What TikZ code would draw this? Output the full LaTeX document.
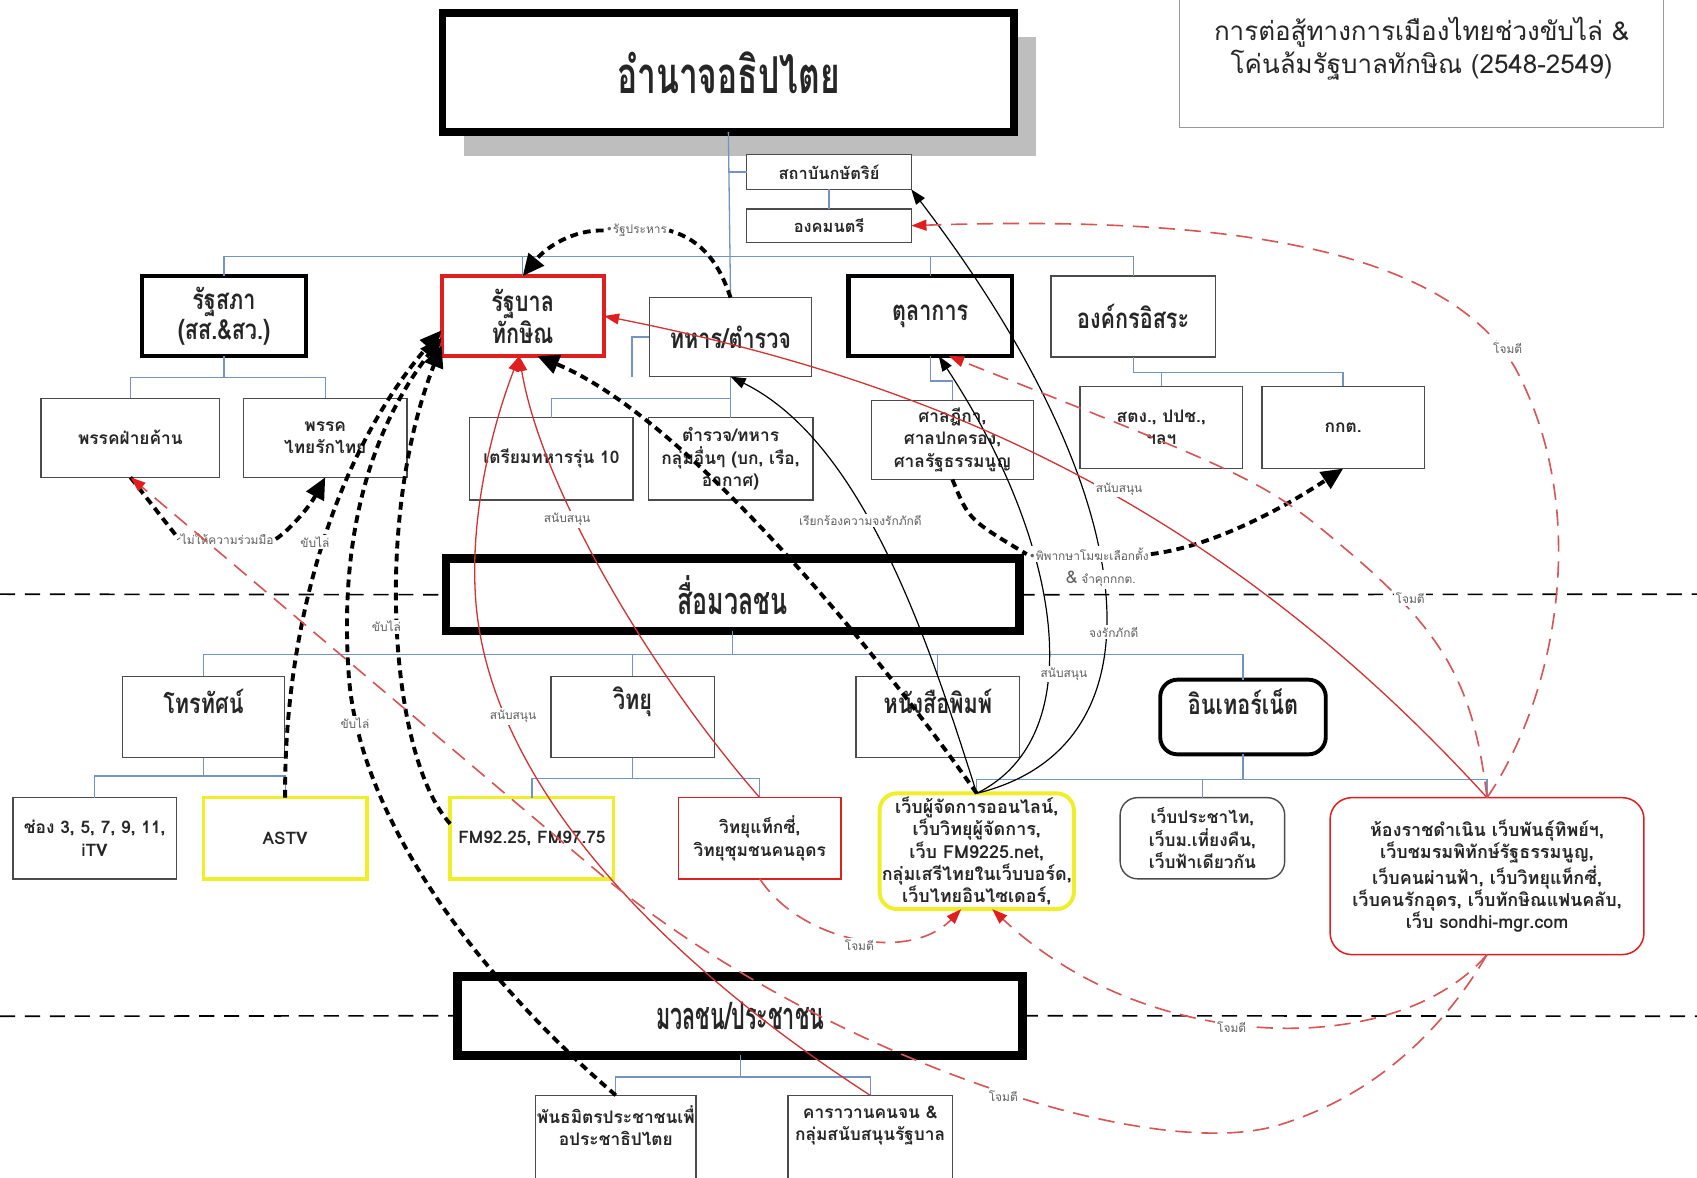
\documentclass[tikz,border=0pt]{standalone}
\usepackage{fontspec}
\setmainfont[Script=Thai]{Loma}
\newfontfamily\condf[Script=Thai,FakeStretch=0.78]{Loma}
\newfontfamily\condg[Script=Thai,FakeStretch=0.66]{Loma}
\newfontfamily\condh[Script=Thai,FakeStretch=0.57]{Loma}
\newfontfamily\dejavu{DejaVu Sans}
\usetikzlibrary{arrows.meta}
\definecolor{orgblue}{RGB}{115,148,190}
\definecolor{boxgray}{RGB}{75,75,75}
\definecolor{ylw}{RGB}{240,238,40}
\definecolor{rd}{RGB}{225,30,30}
\definecolor{rline}{RGB}{210,50,50}
\definecolor{rdsh}{RGB}{215,85,85}
\definecolor{lbl}{RGB}{95,95,95}
\definecolor{shadowgray}{RGB}{190,190,190}
\begin{document}
\begin{tikzpicture}[x=0.5pt,y=-0.5pt,
 box/.style={draw=boxgray,line width=0.65pt,fill=white,inner sep=1pt,outer sep=0pt,align=center,text=black!85,font=\bfseries\fontsize{8}{10.3}\selectfont},
 hd/.style={font=\condf\bfseries\fontsize{12.8}{12}\selectfont,text=black!85},
 thickbox/.style={box,line width=2pt,draw=black},
 hugebox/.style={box,line width=4pt,draw=black},
 ybox/.style={box,draw=ylw,line width=1.6pt},
 rbox/.style={box,draw=rd,line width=0.7pt},
 org/.style={draw=orgblue,line width=0.6pt},
 midline/.style={draw=black,line width=0.75pt,dash pattern=on 7pt off 4.5pt},
 bdash/.style={draw=black,line width=1.8pt,dash pattern=on 3.6pt off 2.4pt},
 barrow/.style={bdash,-{Triangle[length=10pt,width=9pt]}},
 kline/.style={draw=black,line width=0.55pt,-{Triangle[length=7pt,width=5pt]}},
 rsolid/.style={draw=rline,line width=0.6pt,-{Triangle[length=7pt,width=5pt,color=rd]}},
 rdashed/.style={draw=rdsh,line width=0.75pt,dash pattern=on 7.5pt off 4.5pt,-{Triangle[length=7pt,width=5pt,color=rd]}},
 lab/.style={font=\fontsize{5.5}{6.5}\selectfont,text=lbl,fill=white,inner sep=0.8pt},
]
\useasboundingbox (0,0) rectangle (1568,1088);
\fill[white] (0,0) rectangle (1568,1088);

% title box
\node[draw=black!40,line width=0.5pt,minimum width=223.5pt,minimum height=64pt,inner sep=0pt] (title) at (1313.5,54) {};
\node[align=center,font=\fontsize{12}{15}\selectfont,text=black!85] (titletext) at (1313.5,45) {การต่อสู้ทางการเมืองไทยช่วงขับไล่ \&\\โค่นล้มรัฐบาลทักษิณ (2548-2549)};

% top box with shadow
\fill[shadowgray] (429,34) rectangle (957,144);
\node[hugebox,line width=3.5pt,minimum width=264pt,minimum height=55pt,font=\condg\bfseries\fontsize{23.5}{24}\selectfont] (sov) at (673,67) {อำนาจอธิปไตย};

\node[box,minimum width=76pt,minimum height=16pt,font=\bfseries\fontsize{7.6}{9}\selectfont] (king) at (766,159) {สถาบันกษัตริย์};
\node[box,minimum width=76pt,minimum height=15.5pt,font=\bfseries\fontsize{7.6}{9}\selectfont] (privy) at (766,208.5) {องคมนตรี};

\node[thickbox,hd,minimum width=76pt,minimum height=37pt] (parl) at (207,292) {รัฐสภา\\(สส.\&สว.)};
\node[box,hd,draw=rd,line width=1.8pt,minimum width=75pt,minimum height=37pt] (govt) at (483,292) {รัฐบาล\\ทักษิณ};
\node[box,hd,minimum width=75pt,minimum height=36.5pt] (mil) at (675,311.5) {ทหาร/ตำรวจ};
\node[thickbox,hd,minimum width=75.5pt,minimum height=37pt] (court) at (859.5,292) {ตุลาการ};
\node[box,hd,minimum width=76pt,minimum height=37.5pt] (indep) at (1047,292.5) {องค์กรอิสระ};

\node[box,minimum width=82.5pt,minimum height=36.5pt] (opp) at (120.5,404.5) {พรรคฝ่ายค้าน};
\node[box,minimum width=75.5pt,minimum height=36.5pt] (trt) at (300.5,404.5) {พรรค\\ไทยรักไทย};
\node[box,minimum width=75.5pt,minimum height=38pt] (cadet) at (509.5,424) {เตรียมทหารรุ่น 10};
\node[box,minimum width=76pt,minimum height=38pt] (police) at (675,424) {ตำรวจ/ทหาร\\กลุ่มอื่นๆ (บก, เรือ,\\อากาศ)};
\node[box,minimum width=75pt,minimum height=36.5pt] (courts) at (880,406.5) {ศาลฎีกา,\\ศาลปกครอง,\\ศาลรัฐธรรมนูญ};
\node[box,minimum width=75pt,minimum height=38pt] (sto) at (1073,395) {สตง., ปปช.,\\ฯลฯ};
\node[box,minimum width=75pt,minimum height=38pt] (ect) at (1241,395) {กกต.};

\node[hugebox,minimum width=265pt,minimum height=33.5pt,font=\condg\bfseries\fontsize{17.5}{18}\selectfont] (media) at (677,549.5) {สื่อมวลชน};

\node[box,minimum width=75pt,minimum height=37.5pt,label={[hd,yshift=7pt]center:โทรทัศน์}] (tv) at (188,662.5) {};
\node[box,minimum width=75.5pt,minimum height=37.5pt,label={[hd,yshift=7pt]center:วิทยุ}] (radio) at (584.5,662.5) {};
\node[box,minimum width=75.5pt,minimum height=37.5pt,label={[hd,yshift=7pt]center:หนังสือพิมพ์}] (paper) at (866.5,662.5) {};
\node[box,draw=black,line width=1.8pt,rounded corners=8pt,minimum width=76.5pt,minimum height=34.5pt,label={[hd,yshift=7pt]center:อินเทอร์เน็ต}] (net) at (1148.5,662.5) {};

\node[box,minimum width=75.5pt,minimum height=37.5pt] (ch) at (87.5,774.5) {ช่อง 3, 5, 7, 9, 11,\\iTV};
\node[ybox,minimum width=75.5pt,minimum height=37.5pt] (astv) at (263.5,774.5) {ASTV};
\node[ybox,minimum width=75.5pt,minimum height=37.5pt] (fm) at (491.5,774.5) {FM92.25, FM97.75};
\node[rbox,minimum width=75pt,minimum height=37.5pt] (taxi) at (702,774.5) {วิทยุแท็กซี่,\\วิทยุชุมชนคนอุดร};
\node[ybox,line width=1.8pt,rounded corners=8pt,minimum width=87.5pt,minimum height=53.5pt,font=\bfseries\fontsize{8.3}{10.3}\selectfont] (mgr) at (902.5,786.5) {เว็บผู้จัดการออนไลน์,\\เว็บวิทยุผู้จัดการ,\\เว็บ FM9225.net,\\กลุ่มเสรีไทยในเว็บบอร์ด,\\เว็บไทยอินไซเดอร์,};
\node[box,rounded corners=8pt,minimum width=76pt,minimum height=37.5pt] (prachatai) at (1111,774.5) {เว็บประชาไท,\\เว็บม.เที่ยงคืน,\\เว็บฟ้าเดียวกัน};
\node[rbox,rounded corners=10pt,minimum width=145pt,minimum height=72.5pt,font=\bfseries\fontsize{8.3}{10.3}\selectfont] (rajdamnoen) at (1374,809.5) {ห้องราชดำเนิน เว็บพันธุ์ทิพย์ฯ,\\เว็บชมรมพิทักษ์รัฐธรรมนูญ,\\เว็บคนผ่านฟ้า, เว็บวิทยุแท็กซี่,\\เว็บคนรักอุดร, เว็บทักษิณแฟนคลับ,\\เว็บ sondhi-mgr.com};

\node[hugebox,minimum width=261pt,minimum height=36.5pt,font=\condh\bfseries\fontsize{17.5}{18}\selectfont] (mass) at (684,938.5) {มวลชน/ประชาชน};
\node[box,minimum width=74pt,minimum height=40pt,label={[align=center,text=black!85,font=\bfseries\fontsize{8}{10.3}\selectfont,yshift=6pt]center:พันธมิตรประชาชนเพื่\\อประชาธิปไตย}] (pad) at (569,1052) {};
\node[box,minimum width=76pt,minimum height=40pt,label={[align=center,text=black!85,font=\bfseries\fontsize{8}{10.3}\selectfont,yshift=6pt]center:คาราวานคนจน \&\\กลุ่มสนับสนุนรัฐบาล}] (caravan) at (804,1052) {};

% org chart connectors
\draw[org] (sov.south) -- (mil.north);
\draw[org] (sov.south |- king.west) -- (king.west);
\draw[org] (king.south) -- (privy.north);
\draw[org] (parl.north) |- (indep.north |- 0,237) -- (indep.north);
\draw[org] (govt.north) -- (govt.north |- 0,237);
\draw[org] (court.north) -- (court.north |- 0,237);
\draw[org] (parl.south) -- (parl.south |- 0,349);
\draw[org] (opp.north) |- (trt.north |- 0,349) -- (trt.north);
\draw[org] (mil.south) -- (mil.south |- 0,368);
\draw[org] (cadet.north) |- (police.north |- 0,368) -- (police.north);
\draw[org] (mil.west) -| (584,348);
\draw[org] (court.south) -- ++(0,23) -| (courts.north);
\draw[org] (indep.south) |- (ect.north |- 0,344) -- (ect.north);
\draw[org] (sto.north) -- (sto.north |- 0,344);
\draw[org] (media.south) -- (media.south |- 0,605);
\draw[org] (tv.north) |- (net.north |- 0,605) -- (net.north);
\draw[org] (radio.north) -- (radio.north |- 0,605);
\draw[org] (paper.north) -- (paper.north |- 0,605);
\draw[org] (tv.south) -- (tv.south |- 0,717);
\draw[org] (ch.north) |- (astv.north |- 0,717) -- (astv.north);
\draw[org] (radio.south) -- (radio.south |- 0,719);
\draw[org] (fm.north) |- (taxi.north |- 0,719) -- (taxi.north);
\draw[org] (net.south) -- (net.south |- 0,720);
\draw[org] (mgr.north) |- (rajdamnoen.north |- 0,720) -- (rajdamnoen.north);
\draw[org] (prachatai.north) -- (prachatai.north |- 0,720);
\draw[org] (mass.south) -- (mass.south |- 0,995);
\draw[org] (pad.north) |- (caravan.north |- 0,995) -- (caravan.north);

% dashed separators
\coordinate (ML1) at (0,549);
\coordinate (MR1) at (1570,549);
\coordinate (ML2) at (0,939);
\coordinate (MR2) at (1570,939);
\draw[midline] (ML1) -- (media.west);
\draw[midline] (media.east) -- (MR1);
\draw[midline] (ML2) -- (mass.west);
\draw[midline] (mass.east) -- (MR2);

% coup
\node[lab] (coup) at (588,213) {{\dejavu •}รัฐประหาร};
\draw[bdash] (mil.north) .. controls (665,245) and (650,222) .. (coup.east);
\draw[barrow] (coup.west) .. controls (530,212) and (505,228) .. (govt.north);

% expel arrows
\draw[barrow] (astv.north) .. controls (262,600) and (300,430) .. (govt.190);
\draw[barrow] (pad.north) .. controls (450,910) and (330,760) .. (322,620) .. controls (314,500) and (340,400) .. (govt.195);
\draw[barrow] (fm.170) .. controls (360,700) and (345,480) .. (govt.200);
\node[lab] (ex1) at (291,501) {ขับไล่};
\node[lab] (ex2) at (357,579) {ขับไล่};
\node[lab] (ex3) at (328,668) {ขับไล่};

% opposition / TRT
\node[lab] (nocoop) at (210,498) {ไม่ให้ความร่วมมือ};
\draw[bdash] (opp.south) -- (nocoop.west);
\draw[barrow] (nocoop.east) .. controls (265,492) and (285,470) .. (trt.south);

% mgr to government
\draw[barrow] (mgr.north) .. controls (780,560) and (620,380) .. (govt.290);

% black thin from mgr
\draw[kline] (mgr.north) .. controls (860,600) and (800,410) .. (mil.south);
\draw[kline] (mgr.north) .. controls (1010,680) and (980,500) .. (court.282);
\draw[kline] (mgr.north) .. controls (1080,690) and (1060,460) .. (king.south east);
\node[lab] (loyreq) at (795,481) {เรียกร้องความจงรักภักดี};
\node[lab] (sup4) at (983,623) {สนับสนุน};
\node[lab] (loyal) at (1029,584) {จงรักภักดี};

% court verdict
\node[lab] (verdict1) at (1006,512) {{\dejavu •}พิพากษาโมฆะเลือกตั้ง};
\node[lab] (verdict2) at (1017,535) {{\fontsize{8}{8}\selectfont\&} จำคุกกกต.};
\draw[bdash] (courts.south) .. controls (895,480) .. (verdict1.west);
\draw[barrow] (verdict1.east) .. controls (1120,505) and (1185,470) .. (ect.south);

% red solid support lines
\draw[rsolid] (rajdamnoen.north) .. controls (1123,462) and (860,352) .. (govt.east);
\draw[rsolid] (caravan.north) .. controls (600,880) and (455,720) .. (440,560) .. controls (432,470) and (460,380) .. (govt.265);
\draw[rsolid] (taxi.north) .. controls (600,620) and (500,450) .. (govt.265);
\node[lab] (sup1) at (1034,452) {สนับสนุน};
\node[lab] (sup2) at (474,662) {สนับสนุน};
\node[lab] (sup3) at (524,480) {สนับสนุน};

% red dashed attack lines
\draw[rdashed] (rajdamnoen.north) .. controls (1440,640) and (1470,470) .. (1400,340) .. controls (1330,220) and (1100,200) .. (privy.east);
\draw[rdashed] (rajdamnoen.north) .. controls (1362,640) and (1340,590) .. (1250,513) .. controls (1170,445) .. (court.295);
\draw[rdashed] (rajdamnoen.south) .. controls (1290,980) and (1060,975) .. (mgr.285);
\draw[rdashed] (taxi.south) .. controls (740,870) and (840,890) .. (mgr.255);
\draw[rdashed] (rajdamnoen.south) .. controls (1340,940) and (1280,1010) .. (1180,1040) .. controls (1060,1075) and (760,975) .. (560,812) -- (opp.south);
\node[lab] (att1) at (1393,322) {โจมตี};
\node[lab] (att2) at (1303,553) {โจมตี};
\node[lab] (att3) at (1138,949) {โจมตี};
\node[lab] (att4) at (794,873) {โจมตี};
\node[lab] (att5) at (927,1013) {โจมตี};
\end{tikzpicture}
\end{document}
